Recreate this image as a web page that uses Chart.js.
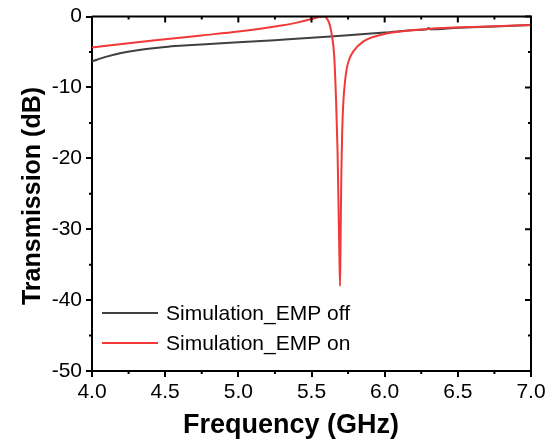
<!DOCTYPE html>
<html>
<head>
<meta charset="utf-8">
<script src="https://cdn.jsdelivr.net/npm/chart.js@4"></script>
<style>
  body { margin: 0; background: #fff; }
</style>
</head>
<body>
<canvas id="myChart" width="559" height="442"></canvas>
<script>
// frequency (GHz) and transmission (dB)
var offFreq = [4.0, 4.1, 4.2, 4.3, 4.4, 4.5, 4.6, 4.75, 5.0, 5.25, 5.5, 5.75, 6.0, 6.25, 6.29, 6.3, 6.31, 6.5, 6.75, 7.0];
var offValues = [-6.3, -5.65, -5.15, -4.78, -4.5, -4.28, -4.12, -3.93, -3.63, -3.32, -3.0, -2.62, -2.25, -1.86, -1.8, -1.62, -1.8, -1.58, -1.38, -1.2];

var onFreq = [4.0, 4.25, 4.5, 4.75, 5.0, 5.25, 5.4, 5.5, 5.55, 5.58, 5.61, 5.625, 5.638, 5.655, 5.668, 5.678, 5.684, 5.69, 5.695,
  5.699, 5.704, 5.71, 5.718, 5.73, 5.741, 5.76, 5.786, 5.855, 5.97, 6.105, 6.2, 6.4, 6.7, 7.0];
var onValues = [-4.35, -3.75, -3.2, -2.65, -2.1, -1.4, -0.85, -0.35, -0.05, 0, -0.4, -1.2, -2.5, -5.5, -11.9, -19, -26, -33, -38,
  -31, -22, -16, -11.9, -9.0, -7.3, -5.9, -4.9, -3.5, -2.6, -2.1, -1.9, -1.6, -1.4, -1.2];

var xTicks = [4.0, 4.5, 5.0, 5.5, 6.0, 6.5, 7.0];
var yTicks = [-50, -40, -30, -20, -10, 0];

var seriesNames = ['Simulation_EMP off', 'Simulation_EMP on'];
var seriesColors = ['rgb(64,64,64)', 'rgb(242,56,56)'];

function toPoints(xs, ys) {
  var pts = [];
  for (var i = 0; i < xs.length; i++) pts.push({x: xs[i], y: ys[i]});
  return pts;
}

var frame = {
  id: 'frame',
  afterDraw: function(chart) {
    var ctx = chart.ctx;
    var a = chart.chartArea;
    var xs = chart.scales.x, ys = chart.scales.y;
    ctx.save();
    ctx.strokeStyle = '#000';
    ctx.lineWidth = 2;
    // top and right border
    ctx.beginPath();
    ctx.moveTo(a.left, a.top);
    ctx.lineTo(a.right, a.top);
    ctx.lineTo(a.right, a.bottom);
    ctx.stroke();
    // ticks
    ctx.beginPath();
    for (var v = 4.0; v <= 7.0001; v += 0.25) {
      var px = xs.getPixelForValue(v);
      var major = Math.abs(v * 2 - Math.round(v * 2)) < 1e-6;
      var len = major ? 6 : 3;
      ctx.moveTo(px, a.top);
      ctx.lineTo(px, a.top + len);
      if (!major) {
        ctx.moveTo(px, a.bottom);
        ctx.lineTo(px, a.bottom + len);
      }
    }
    for (var w = -50; w <= 0; w += 5) {
      var py = ys.getPixelForValue(w);
      var majorY = w % 10 === 0;
      var lenY = majorY ? 6 : 3;
      ctx.moveTo(a.right, py);
      ctx.lineTo(a.right - lenY, py);
      if (!majorY) {
        ctx.moveTo(a.left, py);
        ctx.lineTo(a.left - lenY, py);
      }
    }
    ctx.stroke();

    // legend
    ctx.font = '21px "Liberation Sans", Arial, sans-serif';
    ctx.fillStyle = '#000';
    ctx.textBaseline = 'middle';
    ctx.textAlign = 'left';
    var rows = [313, 343];
    for (var i = 0; i < seriesNames.length; i++) {
      ctx.strokeStyle = seriesColors[i];
      ctx.lineWidth = 2;
      ctx.beginPath();
      ctx.moveTo(102, rows[i]);
      ctx.lineTo(158, rows[i]);
      ctx.stroke();
      ctx.fillText(seriesNames[i], 166, rows[i] + 1);
    }

    // axis titles
    ctx.font = 'bold 27px "Liberation Sans", Arial, sans-serif';
    ctx.textAlign = 'center';
    ctx.textBaseline = 'alphabetic';
    ctx.fillText('Frequency (GHz)', 291, 433);
    ctx.translate(40, 196);
    ctx.rotate(-Math.PI / 2);
    ctx.font = 'bold 25px "Liberation Sans", Arial, sans-serif';
    ctx.fillText('Transmission (dB)', 0, 0);
    ctx.restore();
  }
};

function drawChart() {
  const data = {
    datasets: [{
      label: seriesNames[1],
      borderColor: seriesColors[1],
      backgroundColor: seriesColors[1],
      borderWidth: 2,
      pointRadius: 0,
      cubicInterpolationMode: 'monotone',
      data: toPoints(onFreq, onValues)
    }, {
      label: seriesNames[0],
      borderColor: seriesColors[0],
      backgroundColor: seriesColors[0],
      borderWidth: 2,
      pointRadius: 0,
      cubicInterpolationMode: 'monotone',
      data: toPoints(offFreq, offValues)
    }]
  };

  const tickFont = {family: '"Liberation Sans", Arial, sans-serif', size: 21};

  const config = {
    type: 'line',
    data: data,
    plugins: [frame],
    options: {
      responsive: false,
      animation: false,
      layout: {padding: {top: 15, right: 28, left: 0, bottom: 0}},
      plugins: {legend: {display: false}, tooltip: {enabled: false}},
      scales: {
        x: {
          type: 'linear',
          min: 4, max: 7,
          afterBuildTicks: function(s) { s.ticks = xTicks.map(function(v) { return {value: v}; }); },
          afterFit: function(s) { s.height = 71; },
          ticks: {color: '#000', font: tickFont, padding: 3, maxRotation: 0,
            callback: function(v) { return v.toFixed(1); }},
          grid: {drawOnChartArea: false, drawTicks: true, tickLength: 6, color: '#000', lineWidth: 2},
          border: {color: '#000', width: 2}
        },
        y: {
          type: 'linear',
          min: -50, max: 0,
          afterBuildTicks: function(s) { s.ticks = yTicks.map(function(v) { return {value: v}; }); },
          afterFit: function(s) { s.width = 92; },
          ticks: {color: '#000', font: tickFont, padding: 4,
            callback: function(v) { return String(v); }},
          grid: {drawOnChartArea: false, drawTicks: true, tickLength: 6, color: '#000', lineWidth: 2},
          border: {color: '#000', width: 2}
        }
      }
    }
  };

  const myChart = new Chart(document.getElementById('myChart'), config);
}

drawChart();
</script>
</body>
</html>
